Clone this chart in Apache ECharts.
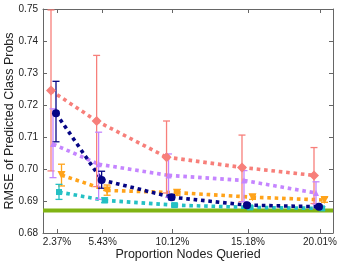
<!DOCTYPE html>
<html>
<head>
<meta charset="utf-8">
<script src="https://cdn.jsdelivr.net/npm/echarts@6/dist/echarts.min.js"></script>
<style>html,body{margin:0;padding:0;background:#fff}#c{width:341px;height:267px}</style>
</head>
<body>
<div id="c"></div>
<script>
// ---- data ----
const xValues = [2.37, 5.43, 10.12, 15.18, 20.01];
const xTickLabels = ['2.37%', '5.43%', '10.12%', '15.18%', '20.01%'];
const yTicks = [0.68, 0.69, 0.70, 0.71, 0.72, 0.73, 0.74, 0.75];

const redMean = [0.7245, 0.7150, 0.7037, 0.7005, 0.6980];
const redLo   = [0.6994, 0.6945, 0.6925, 0.6898, 0.6892];
const redHi   = [0.7497, 0.7355, 0.7150, 0.7106, 0.7067];

const purpleMean = [0.7078, 0.7015, 0.6980, 0.6964, 0.6925];
const purpleLo   = [0.6973, 0.6905, 0.6912, 0.6898, 0.6890];
const purpleHi   = [0.7188, 0.7115, 0.7047, 0.6995, 0.6960];

const navyMean = [0.7174, 0.6966, 0.6912, 0.6887, 0.6882];
const navyLo   = [0.7085, 0.6940, 0.6904, 0.6882, 0.6878];
const navyHi   = [0.7274, 0.6993, 0.6920, 0.6892, 0.6886];

const tealMean = [0.6928, 0.6902, 0.6887, 0.6880, 0.6877];
const tealLo   = [0.6905, 0.6895, 0.6881, 0.6875, 0.6872];
const tealHi   = [0.6952, 0.6910, 0.6893, 0.6885, 0.6882];

const orangeMean = [0.6981, 0.6933, 0.6926, 0.6912, 0.6903];
const orangeLo   = [0.6947, 0.6918, 0.6918, 0.6905, 0.6896];
const orangeHi   = [0.7015, 0.6950, 0.6935, 0.6920, 0.6911];

const baselineValue = 0.6870;

// ---- axis range ----
const xMin = 1.431, xMax = 20.882;

// ---- styles ----
const seriesDefs = [
  {name: 'red',    mean: redMean,    lo: redLo,    hi: redHi,    color: '#f77f7a', symbol: 'diamond',  size: 10, dx: -6},
  {name: 'purple', mean: purpleMean, lo: purpleLo, hi: purpleHi, color: '#c585ff', symbol: 'triangle', size: 6,  dx: -4},
  {name: 'orange', mean: orangeMean, lo: orangeLo, hi: orangeHi, color: '#ffa31a', symbol: 'triDown',  size: 8,  dx: 4.5},
  {name: 'teal',   mean: tealMean,   lo: tealLo,   hi: tealHi,   color: '#24c0c4', symbol: 'square',   size: 6,  dx: 2},
  {name: 'navy',   mean: navyMean,   lo: navyLo,   hi: navyHi,   color: '#050585', symbol: 'circle',   size: 8,  dx: -1}
];

function markerShape(sym, x, y, s, color) {
  const h = s / 2;
  const style = {fill: color, stroke: null};
  if (sym === 'circle') return {type: 'circle', shape: {cx: x, cy: y, r: h}, style};
  if (sym === 'square') return {type: 'rect', shape: {x: x - h, y: y - h, width: s, height: s}, style};
  if (sym === 'diamond') return {type: 'polygon', shape: {points: [[x, y - h], [x + h, y], [x, y + h], [x - h, y]]}, style};
  if (sym === 'triangle') return {type: 'polygon', shape: {points: [[x, y - h], [x + h, y + h], [x - h, y + h]]}, style};
  return {type: 'polygon', shape: {points: [[x - h, y - h], [x + h, y - h], [x, y + h]]}, style};
}

function makeSeries(def) {
  const data = xValues.map((x, i) => [
    x, def.mean[i], def.lo[i], def.hi[i],
    i + 1 < xValues.length ? xValues[i + 1] : x,
    i + 1 < xValues.length ? def.mean[i + 1] : def.mean[i]
  ]);
  return {
    type: 'custom',
    name: def.name,
    data: data,
    clip: true,
    encode: {x: 0, y: [1, 2, 3]},
    renderItem: function (params, api) {
      const x = api.value(0);
      const p = api.coord([x, api.value(1)]);
      const pl = api.coord([x, api.value(2)]);
      const ph = api.coord([x, api.value(3)]);
      const px = p[0] + def.dx;
      const children = [];
      if (params.dataIndex < xValues.length - 1) {
        const pn = api.coord([api.value(4), api.value(5)]);
        children.push({
          type: 'line', z2: 1,
          shape: {x1: px, y1: p[1], x2: pn[0] + def.dx, y2: pn[1]},
          style: {stroke: def.color, lineWidth: 3.6, lineDash: [3.6, 3.8], lineCap: 'butt'}
        });
      }
      const eb = {stroke: def.color, lineWidth: 1.3};
      children.push({type: 'line', z2: 2, shape: {x1: px, y1: ph[1], x2: px, y2: pl[1]}, style: eb});
      children.push({type: 'line', z2: 2, shape: {x1: px - 3.5, y1: ph[1], x2: px + 3.5, y2: ph[1]}, style: eb});
      children.push({type: 'line', z2: 2, shape: {x1: px - 3.5, y1: pl[1], x2: px + 3.5, y2: pl[1]}, style: eb});
      const m = markerShape(def.symbol, px, p[1], def.size, def.color);
      m.z2 = 3;
      children.push(m);
      return {type: 'group', children: children};
    }
  };
}

const axisLineStyle = {color: '#666', width: 1};
const labelFont = {fontFamily: 'Liberation Sans, Arial, sans-serif', fontSize: 10, color: '#222'};

const option = {
  animation: false,
  backgroundColor: '#fff',
  grid: {left: 43, right: 8, top: 9, bottom: 34, containLabel: false, outerBoundsMode: 'none'},
  xAxis: [
    {
      type: 'value', min: xMin, max: xMax, position: 'bottom',
      name: 'Proportion Nodes Queried', nameLocation: 'middle', nameGap: 15, nameMoveOverlap: false,
      nameTextStyle: {fontFamily: 'Liberation Sans, Arial, sans-serif', fontSize: 12.5, color: '#222'},
      axisLine: {show: true, lineStyle: axisLineStyle},
      axisTick: {show: true, inside: true, length: 4, customValues: xValues, lineStyle: axisLineStyle},
      axisLabel: Object.assign({show: true, margin: 4, customValues: xValues,
        formatter: function (v) { const i = xValues.findIndex(a => Math.abs(a - v) < 1e-6); return i >= 0 ? xTickLabels[i] : ''; }}, labelFont),
      splitLine: {show: false}
    },
    {
      type: 'value', min: xMin, max: xMax, position: 'top',
      axisLine: {show: true, lineStyle: axisLineStyle},
      axisTick: {show: true, inside: true, length: 4, customValues: xValues, lineStyle: axisLineStyle},
      axisLabel: {show: false},
      splitLine: {show: false}
    }
  ],
  yAxis: [
    {
      type: 'value', min: 0.68, max: 0.75, interval: 0.01, position: 'left',
      name: 'RMSE of Predicted Class Probs', nameLocation: 'middle', nameGap: 27, nameMoveOverlap: false,
      nameTextStyle: {fontFamily: 'Liberation Sans, Arial, sans-serif', fontSize: 12.5, color: '#222'},
      axisLine: {show: true, lineStyle: axisLineStyle},
      axisTick: {show: true, inside: true, length: 4, lineStyle: axisLineStyle},
      axisLabel: Object.assign({show: true, margin: 5, formatter: function (v) { return v.toFixed(2); }}, labelFont),
      splitLine: {show: false}
    },
    {
      type: 'value', min: 0.68, max: 0.75, interval: 0.01, position: 'right',
      axisLine: {show: true, lineStyle: axisLineStyle},
      axisTick: {show: true, inside: true, length: 4, lineStyle: axisLineStyle},
      axisLabel: {show: false},
      splitLine: {show: false}
    }
  ],
  series: [
    {
      type: 'line', name: 'baseline', silent: true, symbol: 'none', z: 1,
      data: [[xMin, baselineValue], [xMax, baselineValue]],
      lineStyle: {color: '#80b414', width: 4, type: 'solid'}
    }
  ].concat(seriesDefs.map(makeSeries))
};

const chart = echarts.init(document.getElementById('c'), null, {renderer: 'canvas'});
chart.setOption(option);
</script>
</body>
</html>
